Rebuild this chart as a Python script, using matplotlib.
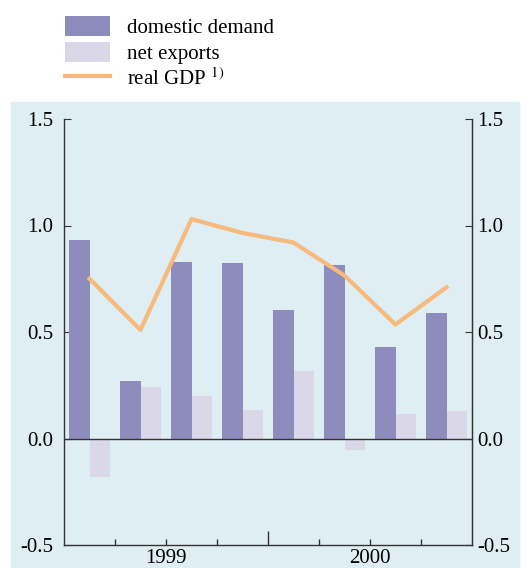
import numpy as np
import matplotlib
matplotlib.use("Agg")
from matplotlib import pyplot as plt
from matplotlib.patches import Rectangle

# quarterly contributions, 1999 Q1 .. 2000 Q4
quarters = ["1999Q1", "1999Q2", "1999Q3", "1999Q4", "2000Q1", "2000Q2", "2000Q3", "2000Q4"]
domestic_demand = [0.93, 0.27, 0.83, 0.825, 0.605, 0.815, 0.43, 0.59]
net_exports = [-0.18, 0.24, 0.20, 0.135, 0.315, -0.055, 0.115, 0.13]
real_gdp = [0.75, 0.51, 1.03, 0.965, 0.92, 0.765, 0.535, 0.71]
years = ["1999", "2000"]
yticks = [-0.5, 0.0, 0.5, 1.0, 1.5]

plt.rcParams["font.family"] = ["Liberation Serif", "DejaVu Serif"]
plt.rcParams["mathtext.fontset"] = "stix"

W, H = 529, 568
fig = plt.figure(figsize=(W / 100, H / 100), dpi=100)
fig.patches.append(Rectangle((11 / W, 0), (519 - 11) / W, (H - 102) / H,
                             transform=fig.transFigure, color="#DFEEF3", zorder=-10))

ax = fig.add_axes([64 / W, (H - 545) / H, (472 - 64) / W, (545 - 119) / H])
ax.set_facecolor("none")

x = np.arange(len(quarters))
w = 0.41
b1 = ax.bar(x - w / 2, domestic_demand, w, color="#8E8CBD", label="domestic demand", zorder=2)
b2 = ax.bar(x + w / 2, net_exports, w, color="#DAD7E9", label="net exports", zorder=2)
l1, = ax.plot(x, real_gdp, color="#F7BA7C", lw=3.0, label=r"real GDP $^{\mathrm{1)}}$", zorder=3)
ax.axhline(0, color="#333333", lw=1.0, zorder=2)

ax.set_xlim(-0.5, 7.5)
ax.set_ylim(-0.5, 1.5)
ax.spines["top"].set_visible(False)
for s in ["left", "right", "bottom"]:
    ax.spines[s].set_color("#333333")
    ax.spines[s].set_linewidth(1.0)

ax.set_yticks(yticks)
ax.set_yticklabels([f"{v:.1f}" for v in yticks])
ax.tick_params(axis="y", direction="in", length=5, labelsize=15, pad=8,
               color="#333333", left=True, right=False)

ax2 = ax.secondary_yaxis("right")
ax2.set_yticks(yticks)
ax2.set_yticklabels([f"{v:.1f}" for v in yticks])
ax2.tick_params(direction="in", length=5, labelsize=15, pad=4, color="#333333")
ax2.spines["right"].set_color("#333333")

# quarter boundaries as ticks, year labels at mid-year
ax.xaxis.remove_overlapping_locs = False
bounds = np.arange(0.5, 7.0, 1.0)
ax.set_xticks(bounds)
ax.set_xticklabels([])
ax.tick_params(axis="x", direction="in", length=4, width=1, color="#333333")
ax.set_xticks([1.5, 5.5], minor=True)
ax.set_xticklabels(years, minor=True)
ax.tick_params(axis="x", which="minor", length=0, labelsize=15, pad=3)
for t in ax.xaxis.get_major_ticks():
    if abs(t.get_loc() - 3.5) < 1e-6:
        t.tick1line.set_markersize(10)

fig.legend(handles=[b1, b2, l1], loc="upper left", bbox_to_anchor=(45 / W, 1 + 4 / H),
           frameon=False, fontsize=15, handlelength=2.15, handleheight=1.1,
           handletextpad=0.85, labelspacing=0.18, borderpad=0.45)

fig.savefig("out.png", dpi=100)
